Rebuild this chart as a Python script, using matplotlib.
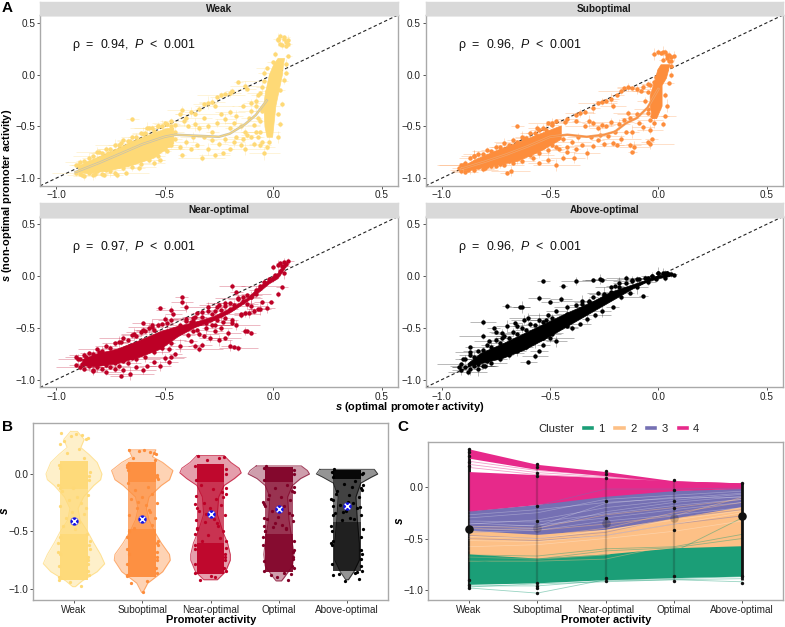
import numpy as np
import matplotlib
matplotlib.use("Agg")
import matplotlib.pyplot as plt
from matplotlib.lines import Line2D

plt.rcParams['font.family'] = ['Liberation Sans', 'DejaVu Sans']
plt.rcParams['mathtext.fontset'] = 'custom'
plt.rcParams['mathtext.rm'] = 'Liberation Sans'
plt.rcParams['mathtext.it'] = 'Liberation Sans:italic'
plt.rcParams['mathtext.bf'] = 'Liberation Sans:bold'
plt.rcParams['mathtext.bfit'] = 'Liberation Sans:italic:bold'

W, H = 785, 627
GREY = '#A9A9A9'
TXT = '#222222'

# ---- panel A data
panel_names = ['Weak', 'Suboptimal', 'Near-optimal', 'Above-optimal']
panel_rho = ['0.94', '0.96', '0.97', '0.96']
panel_cols = ['#FED976', '#FD8D3C', '#BD0026', '#000000']

err_x = [0.03, 0.05, 0.02, 0.07, 0.04, 0.03, 0.09, 0.02, 0.05, 0.04, 0.06, 0.03, 0.11]
err_y = [0.02, 0.03, 0.02, 0.04, 0.02, 0.05, 0.02, 0.03, 0.02, 0.06, 0.03]

edge_x = [-0.91, -0.89, -0.87, -0.85, -0.83, -0.81, -0.79, -0.77, -0.75, -0.73, -0.71, -0.69, -0.67, -0.65, -0.63,
          -0.61, -0.59, -0.57, -0.55, -0.53, -0.51, -0.49, -0.47]

weak_x = [-0.65, -0.47, -0.43, -0.42, -0.4, -0.38, -0.36, -0.34, -0.32, -0.3, -0.28, -0.26, -0.24, -0.22, -0.2, -0.16,
          -0.13, -0.12, -0.19, -0.27, -0.36, -0.34, -0.32, -0.3, -0.28, -0.26, -0.24, -0.22, -0.2, -0.2, -0.18, -0.17,
          -0.15, -0.14, -0.13, -0.11, -0.1, -0.09, -0.08, -0.07, -0.06, -0.05, -0.04, -0.03, -0.45, -0.43, -0.42, -0.4,
          -0.38, -0.37, -0.35, -0.33, -0.32, -0.3, -0.28, -0.27, -0.25, -0.23, -0.22, -0.2, -0.18, -0.17, -0.15, -0.14,
          -0.13, -0.12, -0.1, -0.09, -0.08, -0.45, -0.47, -0.5, -0.52, -0.55, -0.48, -0.58, -0.62, -0.68, -0.72, -0.78,
          -0.82, -0.88, -0.9, -0.86, -0.76, -0.66, -0.6, -0.56, -0.5, -0.7, -0.8, -0.53, -0.45, -0.41, -0.39, -0.1, -0.07,
          0.02, 0.03, 0.05, 0.06, 0.07, 0.04, 0.05, 0.07, 0.02, 0.03, 0.06, -0.03, -0.05,
          -0.06, -0.07, -0.05, -0.08, -0.06, -0.05, -0.04, -0.04, -0.03, 0.02, 0.03, 0.02, 0.04, 0.03, 0.05, 0.06, 0.06,
          0.07, 0.01, 0.0, -0.02, -0.06]
weak_y = [-0.43, -0.45, -0.38, -0.34, -0.42, -0.36, -0.38, -0.33, -0.28, -0.27, -0.26, -0.22, -0.2, -0.19, -0.18, -0.07,
          -0.11, -0.14, -0.16, -0.3, -0.48, -0.52, -0.42, -0.5, -0.55, -0.47, -0.38, -0.43, -0.52, -0.36, -0.47, -0.4,
          -0.5, -0.3, -0.55, -0.42, -0.35, -0.49, -0.3, -0.6, -0.45, -0.65, -0.76, -0.7, -0.62, -0.7, -0.78, -0.65,
          -0.72, -0.6, -0.68, -0.8, -0.6, -0.72, -0.63, -0.78, -0.67, -0.76, -0.62, -0.72, -0.65, -0.6, -0.68, -0.62,
          -0.72, -0.58, -0.6, -0.67, -0.55, -0.55, -0.6, -0.72, -0.82, -0.85, -0.68, -0.52, -0.9, -0.95, -0.97, -0.97,
          -0.96, -0.97, -0.87, -0.85, -0.76, -0.64, -0.57, -0.52, -0.47, -0.66, -0.75, -0.5, -0.49, -0.45, -0.5, -0.27,
          -0.2, 0.34, 0.37, 0.34, 0.31, 0.3, 0.29, 0.36, 0.33, 0.33, 0.3, 0.28, -0.16, -0.32,
          -0.55, -0.42, -0.35, -0.25, -0.18, -0.12, -0.06, 0.02, 0.06, -0.6, -0.48, -0.38, -0.28, -0.15, -0.05, 0.02, 0.1,
          0.18, 0.2, 0.12, -0.65, -0.68]
weak_up = [-0.87, -0.84, -0.83, -0.8, -0.79, -0.75, -0.76, -0.72, -0.72, -0.68, -0.68, -0.63, -0.64, -0.6, -0.6, -0.56,
           -0.56, -0.52, -0.54, -0.5, -0.5, -0.48, -0.5]
weak_lo = [-0.95, -0.96, -0.98, -0.95, -0.97, -0.93, -0.96, -0.92, -0.93, -0.95, -0.88, -0.9, -0.86, -0.89, -0.83,
           -0.86, -0.78, -0.82, -0.76, -0.79, -0.72, -0.74, -0.68]
weak_band_x = [-0.9, -0.85, -0.75, -0.65, -0.55, -0.5, -0.46]
weak_band_lo = [-0.94, -0.95, -0.92, -0.87, -0.8, -0.72, -0.66]
weak_band_hi = [-0.88, -0.83, -0.74, -0.64, -0.56, -0.52, -0.51]
weak_stalk_y = [-0.6, -0.5, -0.3, -0.2, -0.1, 0.0, 0.1, 0.16]
weak_stalk_l = [-0.03, -0.04, -0.045, -0.04, -0.03, -0.02, 0.0, 0.02]
weak_stalk_r = [-0.005, 0.0, 0.01, 0.02, 0.03, 0.04, 0.045, 0.05]
weak_smooth_x = [-0.91, -0.8, -0.7, -0.6, -0.5, -0.45, -0.35, -0.25, -0.2, -0.13, -0.08, -0.03]
weak_smooth_y = [-0.94, -0.85, -0.76, -0.67, -0.6, -0.58, -0.59, -0.6, -0.57, -0.48, -0.39, -0.25]

sub_x = [-0.65, -0.42, -0.38, -0.36, -0.34, -0.3, -0.28, -0.26, -0.24, -0.22, -0.21, -0.19, -0.17, -0.16, -0.14, -0.12,
         -0.1, -0.08, -0.05, -0.34, -0.32, -0.3, -0.28, -0.26, -0.24, -0.22, -0.2, -0.18, -0.16, -0.14, -0.13, -0.12,
         -0.1, -0.09, -0.07, -0.05, -0.04, -0.03, -0.04, -0.05, -0.13, -0.12, -0.11, -0.44, -0.42, -0.4, -0.38, -0.37,
         -0.35, -0.33, -0.31, -0.3, -0.28, -0.27, -0.25, -0.23, -0.21, -0.19, -0.17, -0.15, -0.39, -0.42, -0.44, -0.46,
         -0.47, -0.51, -0.55, -0.58, -0.6, -0.56, -0.7, -0.68, -0.73, -0.8, -0.88, -0.85, -0.92, -0.9, -0.77, -0.7,
         -0.62, -0.56, -0.52, -0.49, -0.43, -0.38, -0.02, 0.0, 0.01, 0.03, 0.04, 0.05, 0.06, 0.07, 0.02, 0.04, 0.06, 0.02,
         -0.07, -0.05, -0.06, -0.05, -0.04, -0.03, -0.02, -0.01, 0.02, 0.03, 0.04, 0.03, 0.05, 0.06, 0.06, 0.05, -0.04, -0.02]
sub_y = [-0.5, -0.43, -0.39, -0.37, -0.36, -0.32, -0.27, -0.26, -0.25, -0.24, -0.3, -0.2, -0.16, -0.13, -0.12, -0.13,
         -0.14, -0.16, -0.09, -0.5, -0.45, -0.47, -0.52, -0.49, -0.5, -0.46, -0.55, -0.48, -0.44, -0.37, -0.42, -0.55,
         -0.38, -0.47, -0.51, -0.37, -0.53, -0.62, -0.67, -0.65, -0.68, -0.75, -0.7, -0.62, -0.7, -0.65, -0.72, -0.6,
         -0.68, -0.76, -0.6, -0.69, -0.63, -0.58, -0.67, -0.59, -0.66, -0.68, -0.62, -0.55, -0.8, -0.75, -0.8, -0.72,
         -0.87, -0.82, -0.85, -0.8, -0.72, -0.52, -0.95, -0.93, -0.86, -0.9, -0.92, -0.79, -0.9, -0.87, -0.88, -0.82,
         -0.62, -0.59, -0.53, -0.49, -0.46, -0.45, 0.2, 0.22, 0.21, 0.22, 0.19, 0.19, 0.17, 0.18, 0.14, 0.16, 0.13, 0.22,
         -0.12, -0.17, -0.25, -0.33, -0.1, -0.4, -0.07, -0.02, -0.48, -0.4, -0.3, -0.2, -0.08, 0.0, 0.08, 0.13, -0.44, -0.47]
sub_up = [-0.87, -0.85, -0.8, -0.79, -0.77, -0.77, -0.73, -0.74, -0.7, -0.7, -0.66, -0.68, -0.63, -0.65, -0.6, -0.61,
          -0.56, -0.56, -0.53, -0.52, -0.47, -0.47, -0.45]
sub_lo = [-0.93, -0.94, -0.9, -0.92, -0.89, -0.91, -0.88, -0.86, -0.88, -0.85, -0.87, -0.83, -0.85, -0.8, -0.83, -0.76,
          -0.78, -0.73, -0.76, -0.7, -0.73, -0.68, -0.7]
sub_band_x = [-0.9, -0.85, -0.75, -0.65, -0.55, -0.5, -0.45]
sub_band_lo = [-0.92, -0.91, -0.87, -0.83, -0.74, -0.68, -0.62]
sub_band_hi = [-0.88, -0.82, -0.73, -0.65, -0.57, -0.53, -0.49]
sub_stalk_y = [-0.42, -0.3, -0.2, -0.1, -0.03, 0.05, 0.1]
sub_stalk_l = [-0.03, -0.04, -0.04, -0.025, -0.015, -0.005, 0.01]
sub_stalk_r = [-0.01, 0.015, 0.015, 0.015, 0.035, 0.045, 0.05]
sub_smooth_x = [-0.91, -0.8, -0.7, -0.6, -0.5, -0.42, -0.33, -0.25, -0.2, -0.15, -0.1, -0.05, 0.0]
sub_smooth_y = [-0.91, -0.84, -0.77, -0.69, -0.6, -0.58, -0.6, -0.58, -0.55, -0.47, -0.42, -0.32, -0.14]

near_x = [-0.42, -0.42, -0.52, -0.47, -0.46, -0.4, -0.37, -0.4, -0.6, -0.56, -0.5, -0.45, -0.43, -0.38, -0.36, -0.33,
          -0.3, -0.29, -0.27, -0.25, -0.24, -0.22, -0.2, -0.19, -0.17, -0.16, -0.14, -0.12, -0.1, -0.08, -0.05, -0.31,
          -0.28, -0.26, -0.24, -0.22, -0.21, -0.19, -0.17, -0.15, -0.13, -0.12, -0.1, -0.09, -0.37, -0.34, -0.32, -0.29,
          -0.27, -0.25, -0.36, -0.34, -0.38, -0.43, -0.48, -0.47, -0.48, -0.45, -0.5, -0.55, -0.52, -0.58, -0.6, -0.63,
          -0.66, -0.69, -0.7, -0.73, -0.77, -0.83, -0.88, -0.9, -0.86, -0.8, -0.7, -0.64, -0.6, -0.56, -0.44, -0.33, -0.13,
          -0.22, -0.2, -0.18, -0.16, -0.1, -0.06, 0.0, 0.03, 0.05, 0.07, 0.04, 0.06, 0.02,
          -0.4, -0.37, -0.35, -0.33, -0.3, -0.28, -0.26, -0.24, -0.22, -0.2, -0.18, -0.16, -0.14, -0.12, -0.1, -0.08, -0.06,
          -0.04, -0.02, 0.0, 0.01, 0.03, 0.05, -0.39, -0.35, -0.31, -0.27, -0.23, -0.19, -0.15, -0.11, -0.07, -0.03, -0.01,
          0.02, 0.04, 0.05]
near_y = [-0.2, -0.25, -0.31, -0.33, -0.37, -0.3, -0.4, -0.43, -0.45, -0.47, -0.41, -0.52, -0.47, -0.44, -0.39, -0.35,
          -0.3, -0.42, -0.34, -0.28, -0.38, -0.26, -0.32, -0.1, -0.15, -0.21, -0.2, -0.27, -0.2, -0.17, -0.25, -0.45,
          -0.47, -0.42, -0.5, -0.4, -0.55, -0.45, -0.47, -0.38, -0.36, -0.53, -0.29, -0.34, -0.53, -0.56, -0.58, -0.6,
          -0.53, -0.62, -0.67, -0.7, -0.63, -0.67, -0.7, -0.78, -0.83, -0.75, -0.79, -0.83, -0.87, -0.87, -0.91, -0.88,
          -0.94, -0.91, -0.96, -0.9, -0.93, -0.91, -0.85, -0.8, -0.78, -0.73, -0.64, -0.56, -0.52, -0.49, -0.5, -0.66,
          -0.53, -0.6, -0.67, -0.68, -0.69, -0.55, -0.32, 0.09, 0.13, 0.14, 0.15, 0.1, 0.12, 0.11,
          -0.41, -0.43, -0.36, -0.39, -0.34, -0.37, -0.3, -0.33, -0.29, -0.26, -0.28, -0.22, -0.24, -0.18, -0.2, -0.13, -0.1,
          -0.06, -0.03, -0.02, 0.01, 0.05, 0.1, -0.57, -0.52, -0.5, -0.47, -0.44, -0.42, -0.37, -0.36, -0.32, -0.31, -0.25,
          -0.17, -0.11, 0.03]
near_up = [-0.78, -0.8, -0.76, -0.74, -0.75, -0.7, -0.72, -0.67, -0.69, -0.65, -0.64, -0.6, -0.62, -0.57, -0.58, -0.54,
           -0.53, -0.5, -0.52, -0.47, -0.46, -0.45, -0.42]
near_lo = [-0.86, -0.88, -0.9, -0.87, -0.92, -0.88, -0.9, -0.86, -0.88, -0.84, -0.87, -0.82, -0.84, -0.79, -0.8, -0.75,
           -0.78, -0.7, -0.73, -0.66, -0.69, -0.62, -0.65]
near_band_x = [-0.88, -0.82, -0.72, -0.62, -0.52, -0.44, -0.36, -0.28, -0.2, -0.12, -0.06, -0.02, 0.02, 0.05]
near_band_lo = [-0.86, -0.87, -0.84, -0.78, -0.7, -0.58, -0.49, -0.43, -0.35, -0.24, -0.14, -0.07, -0.02, 0.07]
near_band_hi = [-0.8, -0.75, -0.7, -0.62, -0.53, -0.48, -0.44, -0.39, -0.31, -0.21, -0.09, -0.03, 0.03, 0.12]

above_x = [-0.53, -0.45, -0.44, -0.38, -0.3, -0.27, -0.26, -0.7, -0.64, -0.63, -0.81, -0.76, -0.81, -0.75, -0.72, -0.87,
           -0.87, -0.9, -0.92, -0.88, -0.83, -0.8, -0.6, -0.57, -0.53, -0.5, -0.45, -0.42, -0.35, -0.32, -0.2, -0.18, -0.15,
           -0.07, -0.55, -0.5, -0.62, -0.52, -0.48, -0.38, -0.34, -0.3, -0.25, -0.22, -0.12, -0.1, -0.05, -0.03, 0.0,
           0.02, 0.04, 0.06, 0.07, -0.7, -0.65, -0.78, -0.72, -0.66, -0.6, -0.42, -0.47, -0.55,
           -0.42, -0.38, -0.35, -0.32, -0.28, -0.25, -0.22, -0.18, -0.15, -0.12, -0.09, -0.06, -0.03, 0.0, 0.03, 0.05, -0.4,
           -0.36, -0.33, -0.29, -0.26, -0.21, -0.17, -0.13, -0.1, -0.05, -0.01, 0.03]
above_y = [-0.05, -0.22, -0.1, -0.05, -0.04, -0.03, -0.04, -0.29, -0.3, -0.3, -0.44, -0.5, -0.58, -0.54, -0.55, -0.68,
           -0.73, -0.8, -0.88, -0.93, -0.9, -0.87, -0.83, -0.77, -0.66, -0.6, -0.42, -0.37, -0.27, -0.25, -0.1, -0.07, -0.02,
           -0.19, -0.21, -0.25, -0.42, -0.42, -0.49, -0.37, -0.3, -0.2, -0.17, -0.15, -0.04, -0.03, -0.02, 0.0, 0.03,
           0.03, 0.03, 0.02, 0.01, -0.48, -0.48, -0.63, -0.6, -0.45, -0.4, -0.48, -0.63, -0.72,
           -0.3, -0.28, -0.24, -0.24, -0.16, -0.18, -0.11, -0.11, -0.07, -0.05, -0.03, -0.02, 0.0, 0.03, 0.03, 0.02, -0.5,
           -0.46, -0.41, -0.38, -0.34, -0.3, -0.2, -0.16, -0.11, -0.06, -0.03, -0.02]
above_up = [-0.85, -0.8, -0.76, -0.78, -0.72, -0.71, -0.66, -0.68, -0.62, -0.65, -0.58, -0.6, -0.54, -0.56, -0.5, -0.52,
            -0.46, -0.47, -0.42, -0.44, -0.38, -0.4, -0.34]
above_lo = [-0.91, -0.88, -0.9, -0.87, -0.85, -0.87, -0.82, -0.84, -0.78, -0.8, -0.74, -0.76, -0.7, -0.72, -0.66, -0.68,
            -0.62, -0.63, -0.58, -0.6, -0.55, -0.56, -0.51]
above_band_x = [-0.88, -0.82, -0.72, -0.62, -0.52, -0.42, -0.32, -0.22, -0.12, -0.05, 0.0, 0.05]
above_band_lo = [-0.87, -0.84, -0.79, -0.71, -0.6, -0.48, -0.36, -0.24, -0.12, -0.05, -0.02, 0.0]
above_band_hi = [-0.84, -0.74, -0.65, -0.55, -0.45, -0.35, -0.26, -0.15, -0.08, -0.03, 0.01, 0.02]

panel_pts = [(weak_x, weak_y, weak_up, weak_lo), (sub_x, sub_y, sub_up, sub_lo),
             (near_x, near_y, near_up, near_lo), (above_x, above_y, above_up, above_lo)]
panel_bands = [(weak_band_x, weak_band_lo, weak_band_hi), (sub_band_x, sub_band_lo, sub_band_hi),
               (near_band_x, near_band_lo, near_band_hi), (above_band_x, above_band_lo, above_band_hi)]
panel_stalks = [(weak_stalk_y, weak_stalk_l, weak_stalk_r), (sub_stalk_y, sub_stalk_l, sub_stalk_r), None, None]
panel_smooth = [(weak_smooth_x, weak_smooth_y), (sub_smooth_x, sub_smooth_y), None, None]

# ---- panel B data
activity = ['Weak', 'Suboptimal', 'Near-optimal', 'Optimal', 'Above-optimal']
vio_cols = ['#FED976', '#FD8D3C', '#BD0026', '#800026', '#000000']
vio_means = [-0.405, -0.395, -0.345, -0.305, -0.28]
vio_y = [
    [0.37, 0.30, 0.23, 0.17, 0.10, 0.0, -0.05, -0.10, -0.20, -0.30, -0.40, -0.50, -0.60, -0.70, -0.78, -0.85, -0.93, -0.98],
    [0.21, 0.15, 0.10, 0.03, -0.05, -0.10, -0.20, -0.30, -0.40, -0.50, -0.60, -0.70, -0.75, -0.85, -0.95, -1.03],
    [0.16, 0.10, 0.05, 0.01, -0.04, -0.10, -0.20, -0.35, -0.50, -0.60, -0.70, -0.75, -0.85, -0.92],
    [0.07, 0.03, 0.0, -0.04, -0.10, -0.20, -0.40, -0.60, -0.70, -0.80, -0.90, -0.93],
    [0.04, 0.0, -0.03, -0.08, -0.20, -0.40, -0.60, -0.75, -0.85, -0.92],
]
vio_w = [
    [0.05, 0.15, 0.10, 0.22, 0.34, 0.41, 0.39, 0.29, 0.14, 0.06, 0.09, 0.20, 0.29, 0.39, 0.45, 0.34, 0.12, 0.02],
    [0.20, 0.15, 0.30, 0.45, 0.40, 0.28, 0.10, 0.06, 0.10, 0.18, 0.28, 0.40, 0.41, 0.30, 0.08, 0.01],
    [0.20, 0.30, 0.42, 0.45, 0.35, 0.20, 0.12, 0.10, 0.18, 0.25, 0.29, 0.29, 0.22, 0.10],
    [0.33, 0.42, 0.45, 0.32, 0.20, 0.13, 0.15, 0.20, 0.22, 0.20, 0.08, 0.04],
    [0.40, 0.45, 0.35, 0.20, 0.13, 0.15, 0.18, 0.18, 0.10, 0.02],
]
# dense stretches of each jitter column: lower, middle, upper
block_lo = [[-0.92, -0.52, -0.13], [-0.9, -0.48, -0.07], [-0.87, -0.6, -0.07], [-0.85, -0.52, -0.07], [-0.84, -0.42, -0.04]]
block_hi = [[-0.52, -0.13, 0.11], [-0.48, -0.07, 0.1], [-0.6, -0.07, 0.09], [-0.52, -0.07, 0.06], [-0.42, -0.04, 0.03]]
block_alpha = [[0.95, 0.72, 0.95], [0.95, 0.72, 0.95], [0.95, 0.68, 0.95], [0.92, 0.68, 0.95], [0.78, 0.55, 0.95]]
jitter = [-0.19, 0.12, -0.05, 0.2, -0.14, 0.03, 0.17, -0.21, 0.08, -0.1, 0.15, -0.01, -0.17, 0.21, 0.05, -0.08, 0.11,
          -0.2, 0.18, -0.03, 0.14, -0.12, 0.07, -0.16, 0.01, 0.19, -0.06, 0.1, -0.22, 0.22, -0.21, 0.23, -0.23, 0.21,
          -0.22, 0.22, -0.2, 0.23, -0.22, 0.21, -0.23, 0.2, -0.21, 0.22, -0.23, 0.23, -0.2, 0.21, -0.22, 0.22]
vio_pts = [
    [0.36, 0.34, 0.33, 0.31, 0.29, 0.35, 0.3, 0.26, 0.22, 0.18, 0.14, -0.12, -0.15, -0.18, -0.2, -0.23, -0.25, -0.28,
     -0.3, -0.33, -0.35, -0.38, -0.42, -0.45, -0.48, -0.52, -0.94, -0.97, 0.08, -0.05, -0.12, 0.02, -0.6, -0.72, -0.8,
     -0.88, -0.55, -0.65, -0.92, -0.75, -0.68, -0.84, 0.05, -0.02, -0.1, -0.58, -0.7, -0.78, -0.9, -0.62],
    [0.21, 0.19, 0.2, 0.17, 0.14, 0.21, 0.18, -0.08, -0.11, -0.14, -0.17, -0.2, -0.22, -0.25, -0.27, -0.3, -0.33, -0.36,
     -0.38, -0.41, -0.44, -0.47, -0.93, -0.95, -1.03, 0.12, -0.24, -0.31, 0.06, -0.01, 0.09, -0.04, -0.55, -0.68, -0.78,
     -0.86, -0.5, -0.62, -0.89, -0.72, -0.65, -0.82, 0.03, -0.03, 0.08, -0.58, -0.7, -0.75, -0.88, -0.6],
    [0.16, 0.14, 0.12, 0.15, -0.1, -0.13, -0.16, -0.19, -0.22, -0.25, -0.27, -0.3, -0.32, -0.36, -0.39, -0.42, -0.45,
     -0.48, -0.5, -0.53, -0.56, -0.58, -0.9, -0.92, -0.89, -0.2, -0.35, -0.43, 0.07, 0.0, -0.05, 0.04, -0.62, -0.7, -0.78,
     -0.84, -0.3, -0.12, -0.52, -0.72, -0.65, -0.82, -0.4, -0.17, -0.26, -0.58, -0.47, -0.75, -0.86, -0.64],
    [0.07, -0.1, -0.12, -0.15, -0.18, -0.2, -0.23, -0.26, -0.28, -0.32, -0.34, -0.37, -0.39, -0.41, -0.44, -0.46, -0.48,
     -0.5, -0.87, -0.9, -0.92, -0.88, -0.86, -0.22, -0.31, -0.36, -0.43, -0.47, 0.05, 0.0, -0.05, 0.03, -0.55, -0.68, -0.76,
     -0.82, -0.28, -0.11, -0.45, -0.72, -0.62, -0.8, -0.38, -0.16, -0.24, -0.58, -0.5, -0.74, -0.84, -0.66],
    [0.04, -0.06, -0.09, -0.12, -0.15, -0.18, -0.2, -0.23, -0.25, -0.27, -0.3, -0.32, -0.34, -0.36, -0.38, -0.4, -0.86,
     -0.88, -0.91, -0.93, -0.85, -0.87, -0.11, -0.17, -0.24, -0.29, -0.33, -0.39, 0.02, 0.0, -0.03, 0.01, -0.45, -0.55, -0.62,
     -0.7, -0.28, -0.1, -0.5, -0.74, -0.6, -0.8, -0.36, -0.14, -0.22, -0.48, -0.58, -0.66, -0.78, -0.84],
]

# ---- panel C data
cluster_names = ['1', '2', '3', '4']
cluster_cols = ['#1B9E77', '#FDC086', '#7570B3', '#E7298A']
c_means = [-0.405, -0.395, -0.345, -0.305, -0.28]
c_mean_alpha = [1.0, 0.2, 0.25, 0.2, 1.0]
c1_lo = [-0.945, -0.93, -0.9, -0.88, -0.865]
c1_hi = [-0.65, -0.69, -0.65, -0.59, -0.57]
c2_lo = [-0.72, -0.72, -0.7, -0.62, -0.6]
c2_hi = [-0.42, -0.46, -0.41, -0.3, -0.19]
c3_lo = [-0.5, -0.5, -0.47, -0.36, -0.26]
c3_hi = [-0.23, -0.17, -0.05, -0.03, -0.01]
c4_lo = [-0.235, -0.17, -0.09, -0.035, -0.015]
c4_hi = [0.15, 0.12, 0.09, 0.06, 0.04]
c4_top_lo = [0.28, 0.17, 0.11, 0.05, 0.03]
c4_top_hi = [0.37, 0.22, 0.15, 0.06, 0.04]
c1_lines = [[-0.98, -1.03, -0.9, -0.89, -0.87], [-0.96, -0.96, -0.91, -0.9, -0.89], [-0.97, -0.94, -0.92, -0.9, -0.92],
            [-0.7, -0.8, -0.72, -0.63, -0.3], [-0.66, -0.67, -0.6, -0.58, -0.46], [-0.68, -0.7, -0.62, -0.59, -0.5]]
c2_lines = [[-0.72, -0.72, -0.7, -0.56, -0.4], [-0.38, -0.4, -0.27, -0.2, -0.12], [-0.68, -0.7, -0.66, -0.5, -0.3],
            [-0.4, -0.42, -0.36, -0.28, -0.1], [-0.5, -0.48, -0.4, -0.25, -0.15], [-0.62, -0.66, -0.6, -0.52, -0.28]]
c3_lines = [[-0.24, -0.18, -0.02, -0.02, -0.01], [-0.5, -0.52, -0.47, -0.36, -0.28], [-0.44, -0.42, -0.25, -0.12, -0.05],
            [-0.47, -0.5, -0.44, -0.3, -0.22]]
c4_lines = [[0.25, 0.16, 0.11, 0.05, 0.03], [0.22, 0.14, 0.1, 0.05, 0.02], [0.19, 0.12, 0.09, 0.05, 0.02]]
c_white = [[-0.3, -0.25, -0.12, -0.08, -0.04], [-0.36, -0.32, -0.2, -0.13, -0.07], [-0.33, -0.34, -0.26, -0.18, -0.12],
           [-0.39, -0.37, -0.3, -0.22, -0.15], [-0.44, -0.42, -0.33, -0.27, -0.2], [-0.52, -0.53, -0.47, -0.36, -0.25],
           [-0.58, -0.56, -0.5, -0.43, -0.33], [-0.27, -0.22, -0.15, -0.11, -0.06], [-0.35, -0.38, -0.16, -0.1, -0.1],
           [-0.42, -0.4, -0.24, -0.15, -0.09], [-0.48, -0.5, -0.42, -0.32, -0.23]]
c_col_lo = [-0.98, -0.96, -0.92, -0.91, -0.9]
c_col_hi = [0.37, 0.22, 0.16, 0.07, 0.04]
c_dots = [[0.37, 0.34, 0.3, 0.24, 0.2, -0.98, -0.95, -0.9],
          [0.22, 0.19, 0.14, 0.11, -0.18, -0.33, -0.93, -0.96, -0.98, -1.03],
          [0.16, 0.13, 0.09, -0.14, -0.3, -0.88, -0.91],
          [0.07, -0.03, -0.14, -0.2, -0.42, -0.86, -0.91],
          [0.04, -0.86, -0.93]]


def add_axes(x0, y0, x1, y1):
    # pixel box (top-left origin) to figure fraction
    ax = fig.add_axes([x0 / W, 1 - y1 / H, (x1 - x0) / W, (y1 - y0) / H])
    for sp in ax.spines.values():
        sp.set_color(GREY)
        sp.set_linewidth(1.0)
    ax.tick_params(length=2.5, width=0.7, color='#555555', labelsize=7.2, labelcolor=TXT, pad=0.8)
    return ax


def fmt(vals):
    return [('%.1f' % v).replace('-', '\u2212') for v in vals]


fig = plt.figure(figsize=(W / 100, H / 100), dpi=100)

# panel A grid
boxes = [(40, 15, 398, 185.5), (425.5, 15, 783, 185.5), (40, 216.5, 398, 387), (425.5, 216.5, 783, 387)]
for i, box in enumerate(boxes):
    ax = add_axes(*box)
    col = panel_cols[i]
    ax.set_xlim(-1.074, 0.575)
    ax.set_ylim(-1.07, 0.575)
    ax.plot([-1.074, 0.575], [-1.074, 0.575], color='#222222', lw=0.8, ls=(0, (3, 2.2)), zorder=1)
    bx, blo, bhi = panel_bands[i]
    ax.fill_between(bx, blo, bhi, color=col, lw=0.5, zorder=3)
    if panel_stalks[i] is not None:
        sy, sl, sr = panel_stalks[i]
        ax.fill_betweenx(sy, sl, sr, color=col, lw=0.5, zorder=3)
    px, py, up, lo = panel_pts[i]
    px = np.r_[px, edge_x, edge_x]
    py = np.r_[py, up, lo]
    ex = np.resize(err_x, len(px))
    ey = np.resize(err_y, len(px))
    ex = np.where(px > -0.03, ex * 0.25, ex)
    ax.hlines(py, px - ex, px + ex, color=col, lw=0.7, alpha=0.28, zorder=2)
    ax.vlines(px, py - ey, py + ey, color=col, lw=0.7, alpha=0.28, zorder=2)
    ax.scatter(px, py, s=10, color=col, lw=0, zorder=4)
    if panel_smooth[i] is not None:
        mx, my = panel_smooth[i]
        ax.plot(mx, my, color='#C9C2AC' if i == 0 else '#F2A468', lw=1.8, zorder=5)
        ax.plot(mx, my, color=col, lw=0.7, zorder=6)
    ax.set_xticks([-1.0, -0.5, 0.0, 0.5], fmt([-1.0, -0.5, 0.0, 0.5]))
    ax.set_yticks([-1.0, -0.5, 0.0, 0.5], fmt([-1.0, -0.5, 0.0, 0.5]))
    ax.text(-0.925, 0.285, '\u03c1  =  %s,  $\\mathit{P}$  <  0.001' % panel_rho[i], fontsize=8.9, color='#111111',
            va='center', ha='left', zorder=7)
    # facet strip
    st = add_axes(box[0], box[1] - 13.5, box[2], box[1])
    st.set_facecolor('#D9D9D9')
    st.set_xticks([])
    st.set_yticks([])
    for sp in st.spines.values():
        sp.set_color('#D9D9D9')
    st.text(0.5, 0.45, panel_names[i], transform=st.transAxes, ha='center', va='center', fontsize=7.2,
            fontweight='bold', color='#1A1A1A')

fig.text(7.5 / W, 1 - 195 / H, r'$\mathbfit{s}$ (non-optimal promoter activity)', rotation=90, ha='center', va='center',
         fontsize=7.9, fontweight='bold')
fig.text(410 / W, 1 - 407.5 / H, r'$\mathbfit{s}$ (optimal promoter activity)', ha='center', va='center', fontsize=7.9,
         fontweight='bold')

# panel B
ax = add_axes(33, 423, 388, 600)
ax.set_xlim(0.4, 5.6)
ax.set_ylim(-1.096, 0.443)
for i in range(5):
    pos = i + 1
    col = vio_cols[i]
    vy = np.array(vio_y[i])
    vw = np.array(vio_w[i])
    ax.fill_betweenx(vy, pos - vw, pos + vw, color=col, alpha=0.38 if i < 4 else 0.42, lw=0)
    ax.plot(np.r_[pos - vw, (pos + vw)[::-1], pos - vw[0]], np.r_[vy, vy[::-1], vy[0]], color=col, lw=0.7, alpha=0.7)
    for lo, hi, al in zip(block_lo[i], block_hi[i], block_alpha[i]):
        ax.fill_betweenx([lo, hi], pos - 0.205, pos + 0.205, color=col, alpha=al, lw=0, zorder=3)
    xs = pos + np.resize(jitter, len(vio_pts[i]))
    ax.scatter(xs, vio_pts[i], s=5.5, color=col, lw=0, zorder=4)
    ax.scatter(pos, vio_means[i], s=36, color='#1414E6', lw=0, zorder=5)
    ax.scatter(pos, vio_means[i], s=16, marker='x', color='white', lw=1.0, zorder=6)
ax.set_xticks(range(1, 6), activity)
ax.set_yticks([-1.0, -0.5, 0.0], fmt([-1.0, -0.5, 0.0]))
fig.text(211 / W, 1 - 620 / H, 'Promoter activity', ha='center', va='center', fontsize=7.9, fontweight='bold')
fig.text(5 / W, 1 - 511 / H, r'$\mathbfit{s}$', rotation=90, ha='center', va='center', fontsize=8.5)

# panel C
ax = add_axes(428, 442, 783, 600)
ax.set_xlim(0.4, 5.6)
ax.set_ylim(-1.097, 0.437)
xc = np.arange(1, 6)
ax.vlines(xc[0], c_col_lo[0], c_col_hi[0], color='#111111', lw=2.0, zorder=1)
ax.vlines(xc[4], c_col_lo[4], c_col_hi[4], color='#111111', lw=2.0, zorder=7)
for lo, hi, col, lines in [(c3_lo, c3_hi, cluster_cols[2], c3_lines), (c2_lo, c2_hi, cluster_cols[1], c2_lines),
                           (c1_lo, c1_hi, cluster_cols[0], c1_lines), (c4_lo, c4_hi, cluster_cols[3], c4_lines)]:
    ax.fill_between(xc, lo, hi, color=col, lw=0, zorder=3)
    for row in lines:
        ax.plot(xc, row, color=col, lw=0.6, alpha=0.45, zorder=3.5)
ax.fill_between(xc, c4_top_lo, c4_top_hi, color=cluster_cols[3], lw=0, zorder=3)
for row in c_white:
    ax.plot(xc, row, color='white', lw=0.5, alpha=0.3, zorder=4)
for i in range(5):
    ax.vlines(xc[i], c_col_lo[i], c_col_hi[i], color='#111111', lw=1.6, alpha=0.45 if i == 0 else 0.2, zorder=5)
    ax.scatter(np.full(len(c_dots[i]), xc[i]), c_dots[i], s=6, color='#111111', lw=0, zorder=6)
    ax.scatter(xc[i], c_means[i], s=38, color='#111111', alpha=c_mean_alpha[i], lw=0, zorder=6)
ax.set_xticks(range(1, 6), activity)
ax.set_yticks([-1.0, -0.5, 0.0], fmt([-1.0, -0.5, 0.0]))
fig.text(606 / W, 1 - 620 / H, 'Promoter activity', ha='center', va='center', fontsize=7.9, fontweight='bold')
fig.text(400 / W, 1 - 521 / H, r'$\mathbfit{s}$', rotation=90, ha='center', va='center', fontsize=8.5)

# cluster legend sits above panel C
fig.text(538 / W, 1 - 428.5 / H, 'Cluster', ha='left', va='center', fontsize=8.1, color=TXT)
handles = [Line2D([], [], color=c, lw=2.6) for c in cluster_cols]
fig.legend(handles, cluster_names, ncol=4, loc='center left', bbox_to_anchor=(578 / W, 1 - 428.5 / H), frameon=False,
           fontsize=8.1, handlelength=0.75, handletextpad=0.55, columnspacing=0.95, labelcolor=TXT, borderpad=0)

fig.text(2 / W, 1 - 8 / H, 'A', fontsize=11, fontweight='bold', va='center')
fig.text(2 / W, 1 - 427 / H, 'B', fontsize=11, fontweight='bold', va='center')
fig.text(397 / W, 1 - 427 / H, 'C', fontsize=11, fontweight='bold', va='center')

fig.savefig('out.png', dpi=100)
